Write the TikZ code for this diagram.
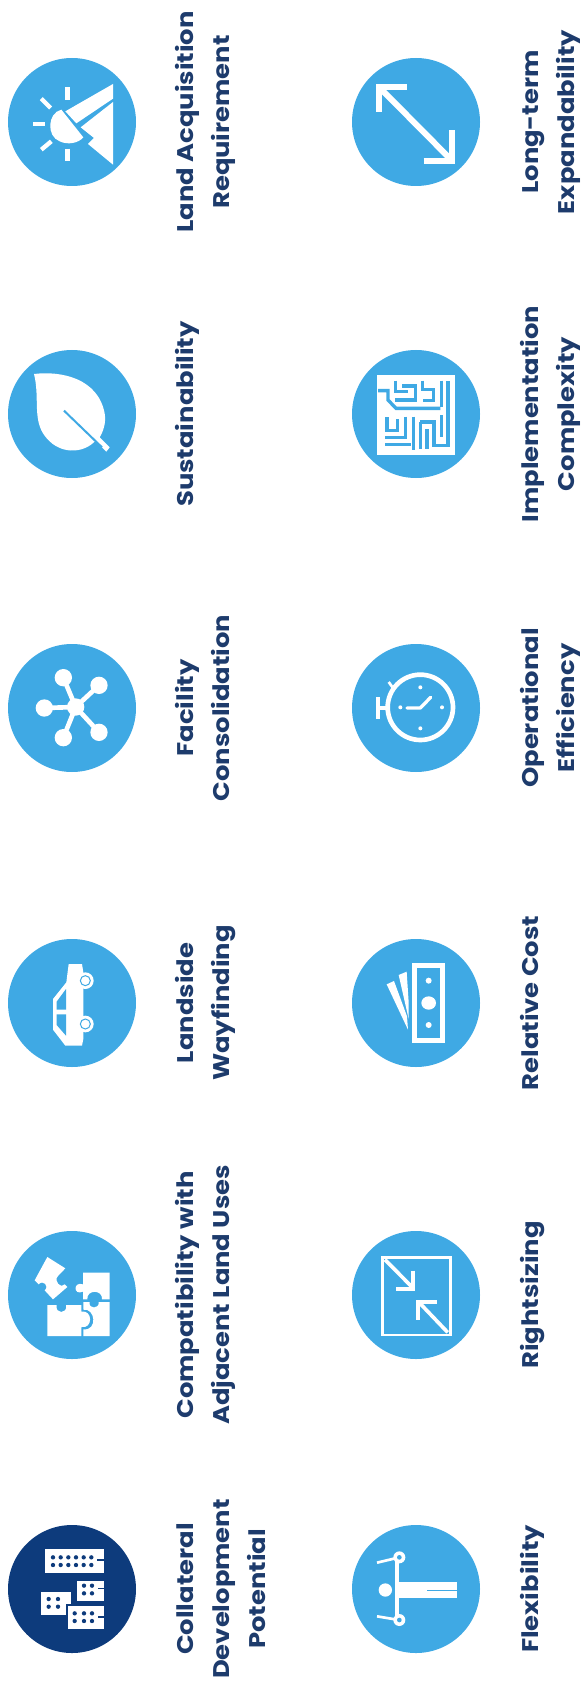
\documentclass[tikz,border=0pt]{standalone}
\usepackage{fontspec}
\setmainfont{Poppins}[FakeStretch=1.14]
\definecolor{sky}{HTML}{3FA9E4}
\definecolor{navy}{HTML}{0D3B7C}
\definecolor{ink}{HTML}{1D3B6C}
\tikzset{
  disc/.style={circle,fill=sky,minimum size=96pt,inner sep=0pt},
  darkdisc/.style={disc,fill=navy},
  lab/.style={rotate=90,anchor=base,align=center,inner sep=0pt,text=ink,
    font=\fontsize{17}{27}\selectfont\bfseries},
  icon/.style={shift={(#1)},x=.25pt,y=-.25pt},
  wf/.style={fill=white,draw=none},
  ws/.style={draw=white,line width=#1*.25pt},
  bs/.style={draw=sky,line width=#1*.25pt},
  ns/.style={draw=navy,line width=#1*.25pt},
  bf/.style={fill=sky,draw=none},
  nf/.style={fill=navy,draw=none}
}
\begin{document}
\begin{tikzpicture}[x=.75pt,y=-.75pt]
\useasboundingbox (0,0) rectangle (581,1690);
% discs
\node[disc] (c1) at (72,122) {};
\node[disc] (c2) at (72,414) {};
\node[disc] (c3) at (72,708) {};
\node[disc] (c4) at (72,1003) {};
\node[disc] (c5) at (72,1295) {};
\node[darkdisc] (c6) at (72,1589) {};
\node[disc] (d1) at (416,122) {};
\node[disc] (d2) at (416,414) {};
\node[disc] (d3) at (416,708) {};
\node[disc] (d4) at (416,1003) {};
\node[disc] (d5) at (416,1295) {};
\node[disc] (d6) at (416,1589) {};
% labels
\node[lab] (l1) at (229.5,122) {Land Acquisition\\Requirement};
\node[lab] (l2) at (193.5,414) {Sustainability};
\node[lab] (l3) at (229.5,708) {Facility\\Consolidation};
\node[lab] (l4) at (229.5,1003) {Landside\\Wayfinding};
\node[lab] (l5) at (229.5,1295) {Compatibility with\\Adjacent Land Uses};
\node[lab] (l6) at (265.5,1589) {Collateral\\Development\\Potential};
\node[lab] (m1) at (574,122) {Long-term\\Expandability};
\node[lab] (m2) at (574,414) {Implementation\\Complexity};
\node[lab] (m3) at (574,708) {Operational\\Efficiency};
\node[lab] (m4) at (538,1003) {Relative Cost};
\node[lab] (m5) at (538,1295) {Rightsizing};
\node[lab] (m6) at (538,1589) {Flexibility};
% sun and wedge
\begin{scope}[icon={8,58}]
\foreach \a/\b/\c/\d in {178/88/178/125,100/122/128/150,75/198/110/198,100/275/130/250,178/272/178/310}
  \draw[ws=13] (\a,\b) -- (\c,\d);
\fill[wf] (160,155) .. controls (118,165) and (115,235) .. (155,250) .. controls (180,262) and (212,255) .. (226,238) -- cycle;
\fill[wf] (172,160) -- (315,78) -- (315,122) -- (205,196) -- cycle;
\fill[wf] (315,132) -- (218,208) -- (258,240) -- (240,258) -- (315,320) -- cycle;
\end{scope}
% leaf
\begin{scope}[icon={8,350}]
\fill[wf] (78,72) .. controls (160,62) and (270,85) .. (290,190) .. controls (295,220) and (285,245) .. (275,262) -- (305,292) -- (295,305) -- (262,272) .. controls (230,310) and (150,320) .. (105,250) .. controls (75,200) and (95,140) .. (78,72) -- cycle;
\draw[bs=6] (168,182) -- (282,292);
\end{scope}
% hub
\begin{scope}[icon={8,644}]
\foreach \a/\b in {166/101,273/124,109/192,166/281,273/265}{
  \draw[ws=14] (203,189) -- (\a,\b);
  \fill[wf] (\a,\b) circle (26);
}
\fill[wf] (203,189) circle (26);
\end{scope}
% car
\begin{scope}[icon={8,939}]
\fill[wf] (182,75) -- (222,75) -- (226,100) -- (226,300) -- (222,320) -- (172,320) -- (135,272) -- (135,180) -- (175,130) -- cycle;
\fill[bf] (146,188) -- (174,150) -- (174,212) -- (146,212) -- cycle;
\fill[bf] (146,226) -- (174,226) -- (174,290) -- (146,258) -- cycle;
\fill[wf] (232,125) circle (25);
\fill[wf] (232,255) circle (25);
\draw[bs=3] (232,125) circle (15);
\draw[bs=3] (232,255) circle (15);
\end{scope}
% puzzle
\begin{scope}[icon={8,1231}]
\fill[wf] (118,78) -- (172,112) -- (150,135) .. controls (135,150) and (160,175) .. (170,160) -- (178,168) -- (135,205) -- (110,178) .. controls (125,165) and (105,145) .. (92,160) -- (80,148) -- cycle;
\fill[wf] (225,125) -- (305,125) -- (305,205) -- (282,205) .. controls (285,175) and (235,175) .. (238,205) -- (225,205) -- (225,182) .. controls (195,195) and (195,150) .. (225,160) -- cycle;
\fill[wf] (118,222) -- (146,222) .. controls (140,250) and (180,250) .. (174,222) -- (220,222) -- (220,242) .. controls (255,235) and (255,295) .. (220,288) -- (220,315) -- (118,315) -- cycle;
\fill[wf] (245,213) .. controls (240,235) and (275,235) .. (272,213) -- (305,213) -- (305,315) -- (226,315) -- (226,295) .. controls (270,300) and (262,230) .. (226,236) -- (226,213) -- cycle;
\end{scope}
% buildings
\begin{scope}[icon={8,1525}]
\fill[wf] (112,72) rectangle (288,145);
\foreach \a in {135,158,181,204,227,250}\foreach \b in {97,120}\fill[nf] (\a,\b) circle (6.5);
\draw[ns=5] (268,105) -- (290,105);
\fill[wf] (100,200) -- (190,200) -- (190,270) -- (100,270) -- cycle;
\foreach \a in {122,150}\foreach \b in {222,245}\fill[nf] (\a,\b) circle (6.5);
\draw[ns=6,fill=white] (203,164) rectangle (291,232);
\foreach \a in {228,252}\foreach \b in {182,205}\fill[nf] (\a,\b) circle (6.5);
\draw[ns=5] (270,190) -- (292,190);
\draw[ns=6,fill=white] (177,240) rectangle (291,316);
\foreach \a in {200,228,252}\foreach \b in {265,288}\fill[nf] (\a,\b) circle (6.5);
\draw[ns=5] (270,275) -- (292,275);
\end{scope}
% expand arrows
\begin{scope}[icon={352,58}]
\draw[ws=18,miter limit=10] (165,87) -- (81,87) -- (81,163);
\draw[ws=18] (81,87) -- (300,308);
\draw[ws=18,miter limit=10] (215,308) -- (300,308) -- (300,217);
\end{scope}
% maze
\begin{scope}[icon={352,350}]
\fill[wf] (75,75) rectangle (310,315);
\foreach \p in {
  {(78,122)--(108,122)--(108,150)--(132,175)--(265,175)},
  {(130,92)--(130,124)--(168,124)},
  {(150,108)--(190,108)--(190,150)--(128,150)},
  {(212,92)--(212,118)--(245,118)--(245,152)--(212,152)},
  {(268,92)--(268,170)},
  {(105,202)--(105,242)--(136,242)--(136,208)},
  {(160,200)--(160,262)--(100,262)},
  {(100,284)--(178,284)},
  {(185,200)--(185,300)},
  {(205,216)--(205,298)},
  {(205,216)--(246,216)--(246,286)--(288,286)--(288,92)},
  {(225,238)--(225,296)},
  {(268,195)--(268,262)}}
  \draw[bs=10] \p;
\end{scope}
% stopwatch
\begin{scope}[icon={352,644}]
\draw[ws=14] (205,190) circle (98);
\draw[ws=14] (78,160) -- (78,226);
\draw[ws=14] (78,192) -- (108,192);
\draw[ws=8] (110,114) -- (126,136);
\draw[ws=10,line join=round,line cap=round] (165,192) -- (205,192) -- (236,160);
\foreach \a/\b in {205/130,205/253,145/190,270/190}\fill[wf] (\a,\b) circle (6);
\end{scope}
% money
\begin{scope}[icon={352,939}]
\draw[ws=15] (186,80) rectangle (271,305);
\fill[wf] (230,192) ellipse (22 and 20);
\fill[wf] (230,125) circle (9);
\fill[wf] (230,258) circle (9);
\fill[wf] (168,272) -- (104,136) -- (126,126) -- (165,232) -- cycle;
\fill[wf] (170,240) -- (140,108) -- (164,98) -- (170,190) -- cycle;
\end{scope}
% rightsizing
\begin{scope}[icon={352,1231}]
\draw[ws=7] (91,79) rectangle (295,312);
\draw[ws=11] (99,86) -- (183,171);
\draw[ws=11] (183,119) -- (183,174) -- (131,174);
\draw[ws=11] (287,304) -- (201,214);
\draw[ws=11] (198,266) -- (198,212) -- (254,212);
\end{scope}
% flexibility
\begin{scope}[icon={352,1525}]
\draw[ws=14] (135,97) -- (135,285);
\fill[wf] (135,172) rectangle (315,218);
\draw[bs=3] (225,195) -- (315,195);
\fill[wf] (100,195) circle (20);
\draw[ws=8] (142,97) -- (75,113);
\draw[ws=8] (142,285) -- (75,274);
\fill[wf] (142,97) circle (18);
\fill[wf] (142,285) circle (18);
\fill[bf] (142,97) circle (7);
\fill[bf] (142,285) circle (7);
\end{scope}
\end{tikzpicture}
\end{document}
